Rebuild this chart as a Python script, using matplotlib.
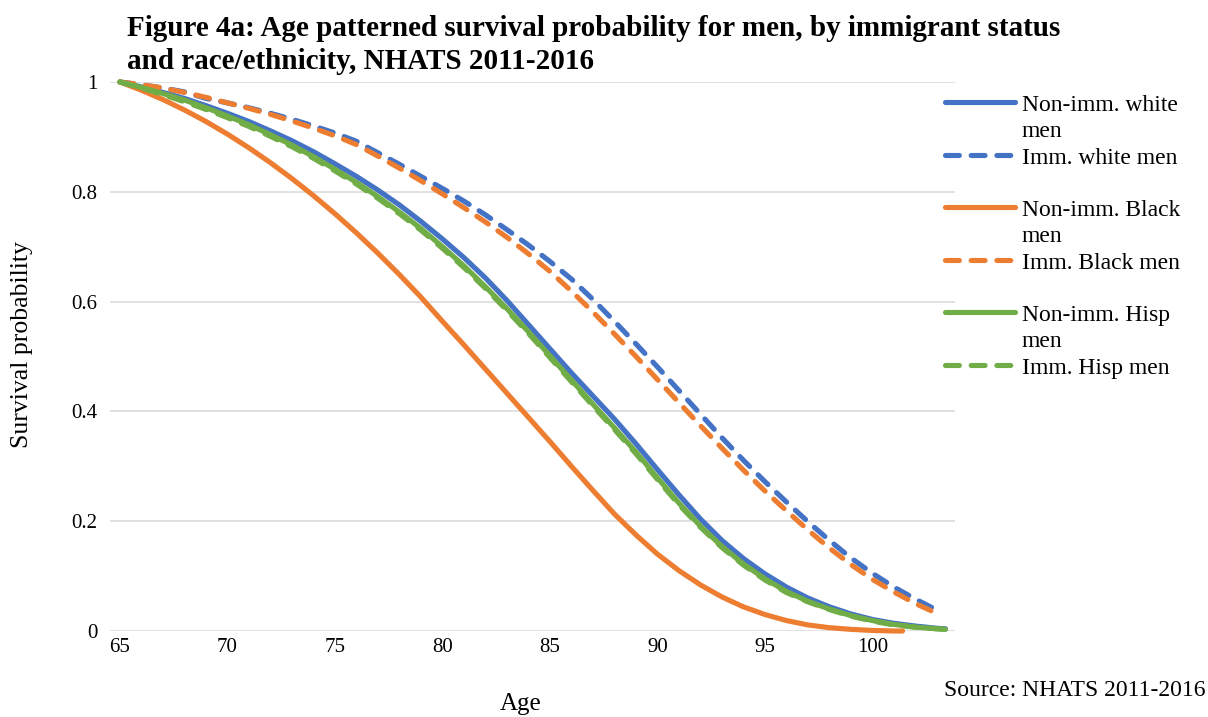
import matplotlib
matplotlib.use("Agg")
import matplotlib.pyplot as plt
from matplotlib.lines import Line2D

plt.rcParams['font.family'] = ['Liberation Serif', 'DejaVu Serif']

# Ages (years) for each survival curve
ages = list(range(65, 104))
ages_solid_end = ages + [103.4]
ages_black = list(range(65, 102)) + [101.4]

# Survival probabilities by age
non_imm_white = [1.000, 0.991, 0.981, 0.970, 0.957, 0.943, 0.928, 0.911, 0.893, 0.873,
                 0.851, 0.828, 0.803, 0.776, 0.746, 0.714, 0.680, 0.643, 0.602, 0.558,
                 0.514, 0.470, 0.428, 0.386, 0.341, 0.294, 0.248, 0.204, 0.165, 0.132,
                 0.104, 0.080, 0.060, 0.044, 0.031, 0.021, 0.014, 0.009, 0.005, 0.004]
imm_white = [1.000, 0.995, 0.989, 0.982, 0.970, 0.962, 0.953, 0.943, 0.932, 0.920,
             0.907, 0.892, 0.871, 0.850, 0.828, 0.806, 0.783, 0.758, 0.731, 0.703,
             0.673, 0.641, 0.604, 0.564, 0.523, 0.481, 0.438, 0.395, 0.352, 0.311,
             0.272, 0.235, 0.199, 0.165, 0.133, 0.105, 0.080, 0.058, 0.038]
non_imm_black = [1.000, 0.985, 0.968, 0.949, 0.928, 0.905, 0.880, 0.853, 0.824, 0.793,
                 0.760, 0.725, 0.688, 0.649, 0.608, 0.564, 0.521, 0.477, 0.433, 0.389,
                 0.345, 0.300, 0.256, 0.213, 0.175, 0.140, 0.110, 0.084, 0.062, 0.044,
                 0.030, 0.019, 0.011, 0.006, 0.003, 0.001, 0.000, 0.000]
imm_black = [1.000, 0.995, 0.989, 0.981, 0.972, 0.962, 0.952, 0.941, 0.929, 0.916,
             0.902, 0.886, 0.865, 0.843, 0.820, 0.796, 0.771, 0.745, 0.717, 0.687,
             0.655, 0.619, 0.581, 0.541, 0.500, 0.458, 0.416, 0.374, 0.333, 0.293,
             0.255, 0.219, 0.184, 0.151, 0.121, 0.094, 0.071, 0.050, 0.032]
non_imm_hisp = [1.000, 0.990, 0.979, 0.967, 0.953, 0.938, 0.922, 0.904, 0.885, 0.864,
                0.841, 0.817, 0.791, 0.763, 0.733, 0.700, 0.665, 0.627, 0.587, 0.545,
                0.501, 0.457, 0.413, 0.370, 0.326, 0.279, 0.233, 0.191, 0.154, 0.122,
                0.095, 0.072, 0.054, 0.040, 0.028, 0.019, 0.012, 0.007, 0.004, 0.003]
imm_hisp = [1.000, 0.989, 0.977, 0.964, 0.950, 0.935, 0.919, 0.901, 0.882, 0.861,
            0.838, 0.814, 0.788, 0.760, 0.730, 0.697, 0.662, 0.624, 0.584, 0.542,
            0.498, 0.454, 0.410, 0.367, 0.323, 0.276, 0.230, 0.189, 0.152, 0.120,
            0.093, 0.070, 0.053, 0.039, 0.027, 0.018, 0.011, 0.007, 0.004, 0.003]

x_ticks = [65, 70, 75, 80, 85, 90, 95, 100]
y_ticks = [0, 0.2, 0.4, 0.6, 0.8, 1.0]
y_tick_labels = ['0', '0.2', '0.4', '0.6', '0.8', '1']

BLUE = '#4472C4'
ORANGE = '#ED7D31'
GREEN = '#70AD47'

W, H = 1208, 717
fig = plt.figure(figsize=(W / 100, H / 100), dpi=100)
ax = fig.add_axes([110 / W, 1 - 631 / H, (955 - 110) / W, (631 - 82) / H])

LW = 3.7
dash = (2.7, 2.3)

series = [
    (ages_solid_end, non_imm_white, BLUE, '-', ['Non-imm. white', 'men']),
    (ages, imm_white, BLUE, '--', ['Imm. white men']),
    (ages_black, non_imm_black, ORANGE, '-', ['Non-imm. Black', 'men']),
    (ages, imm_black, ORANGE, '--', ['Imm. Black men']),
    (ages_solid_end, non_imm_hisp, GREEN, '-', ['Non-imm. Hisp', 'men']),
    (ages_solid_end, imm_hisp, GREEN, '--', ['Imm. Hisp men']),
]

for xs, ys, col, ls, lab in series:
    ln, = ax.plot(xs, ys, color=col, lw=LW, solid_capstyle='round',
                  dash_capstyle='round', solid_joinstyle='round',
                  clip_on=False, zorder=3)
    if ls == '--':
        ln.set_dashes(dash)

ax.set_xlim(64.535, 103.84)
ax.set_ylim(0, 1)
ax.set_xticks(x_ticks)
ax.set_yticks(y_ticks)
ax.set_yticklabels(y_tick_labels)
ax.tick_params(axis='both', length=0, labelsize=15, colors='black')
ax.tick_params(axis='y', pad=9)
ax.tick_params(axis='x', pad=5)
ax.grid(axis='y', color='#D9D9D9', lw=1.1, zorder=0)
for s in ax.spines.values():
    s.set_visible(False)

# Title, axis titles and source note
title_lines = ['Figure 4a: Age patterned survival probability for men, by immigrant status',
               'and race/ethnicity, NHATS 2011-2016']
for k, line in enumerate(title_lines):
    fig.text(127 / W, 1 - (36 + 33 * k) / H, line, ha='left', va='baseline',
             fontsize=21, fontweight='bold')
fig.text(521 / W, 1 - 704 / H, 'Age', ha='center', va='center', fontsize=18)
fig.text(22 / W, 1 - 345 / H, 'Survival probability', ha='center', va='center',
         rotation=90, fontsize=18.5)
fig.text(1205 / W, 1 - 696 / H, 'Source: NHATS 2011-2016', ha='right',
         va='baseline', fontsize=17)

# Legend: each entry gets a two-line slot, handle aligned with its first line
for i, (xs, ys, col, ls, lab) in enumerate(series):
    yh = 102.3 + 52.5 * i
    h = Line2D([945 / W, 1015 / W], [1 - yh / H, 1 - yh / H],
               transform=fig.transFigure, color=col, lw=LW,
               solid_capstyle='round', dash_capstyle='round')
    if ls == '--':
        h.set_dashes(dash)
    fig.add_artist(h)
    for k, line in enumerate(lab):
        fig.text(1022 / W, 1 - (yh + 9 + 25.5 * k) / H, line, ha='left',
                 va='baseline', fontsize=17)

fig.savefig('out.png', dpi=100)
